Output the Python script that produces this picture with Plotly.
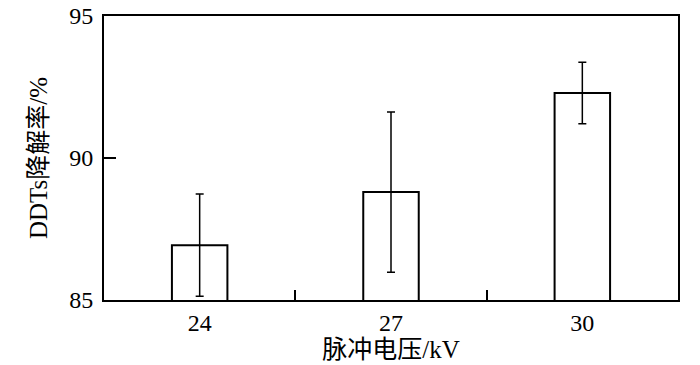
import plotly.graph_objects as go

categories = ["24", "27", "30"]
values = [86.93, 88.80, 92.29]
errors = [1.80, 2.82, 1.08]
y_ticks = [85, 90, 95]

font_family = "Liberation Serif, Noto Sans CJK SC, serif"

fig = go.Figure()
fig.add_trace(go.Bar(
    x=categories, y=values,
    width=0.29,
    marker=dict(color="white", line=dict(color="black", width=2)),
    error_y=dict(type="data", array=errors, visible=True,
                 color="black", thickness=1.5, width=4),
))

fig.update_layout(
    width=700, height=365,
    margin=dict(l=104, r=22, t=16, b=65),
    plot_bgcolor="white", paper_bgcolor="white",
    showlegend=False,
    font=dict(family=font_family, size=24, color="black"),
)
fig.update_xaxes(
    type="category", range=[-0.5, 2.5], automargin=False,
    tickson="boundaries", ticks="inside", ticklen=10, tickwidth=2, tickcolor="black",
    showline=True, linecolor="black", linewidth=2, mirror=True,
    showgrid=False,
    title=dict(text="脉冲电压/kV", font=dict(family=font_family, size=25), standoff=4),
    tickfont=dict(family=font_family, size=24, color="black"),
)
fig.update_yaxes(
    range=[85, 95], tickvals=y_ticks, automargin=False,
    ticks="inside", ticklen=12, tickwidth=2, tickcolor="black",
    showline=True, linecolor="black", linewidth=2, mirror=True,
    showgrid=False, zeroline=False,
    ticklabelstandoff=4,
    title=dict(text="DDTs降解率/%", font=dict(family=font_family, size=25), standoff=14),
    tickfont=dict(family=font_family, size=24, color="black"),
)

fig.write_html("out.html")
